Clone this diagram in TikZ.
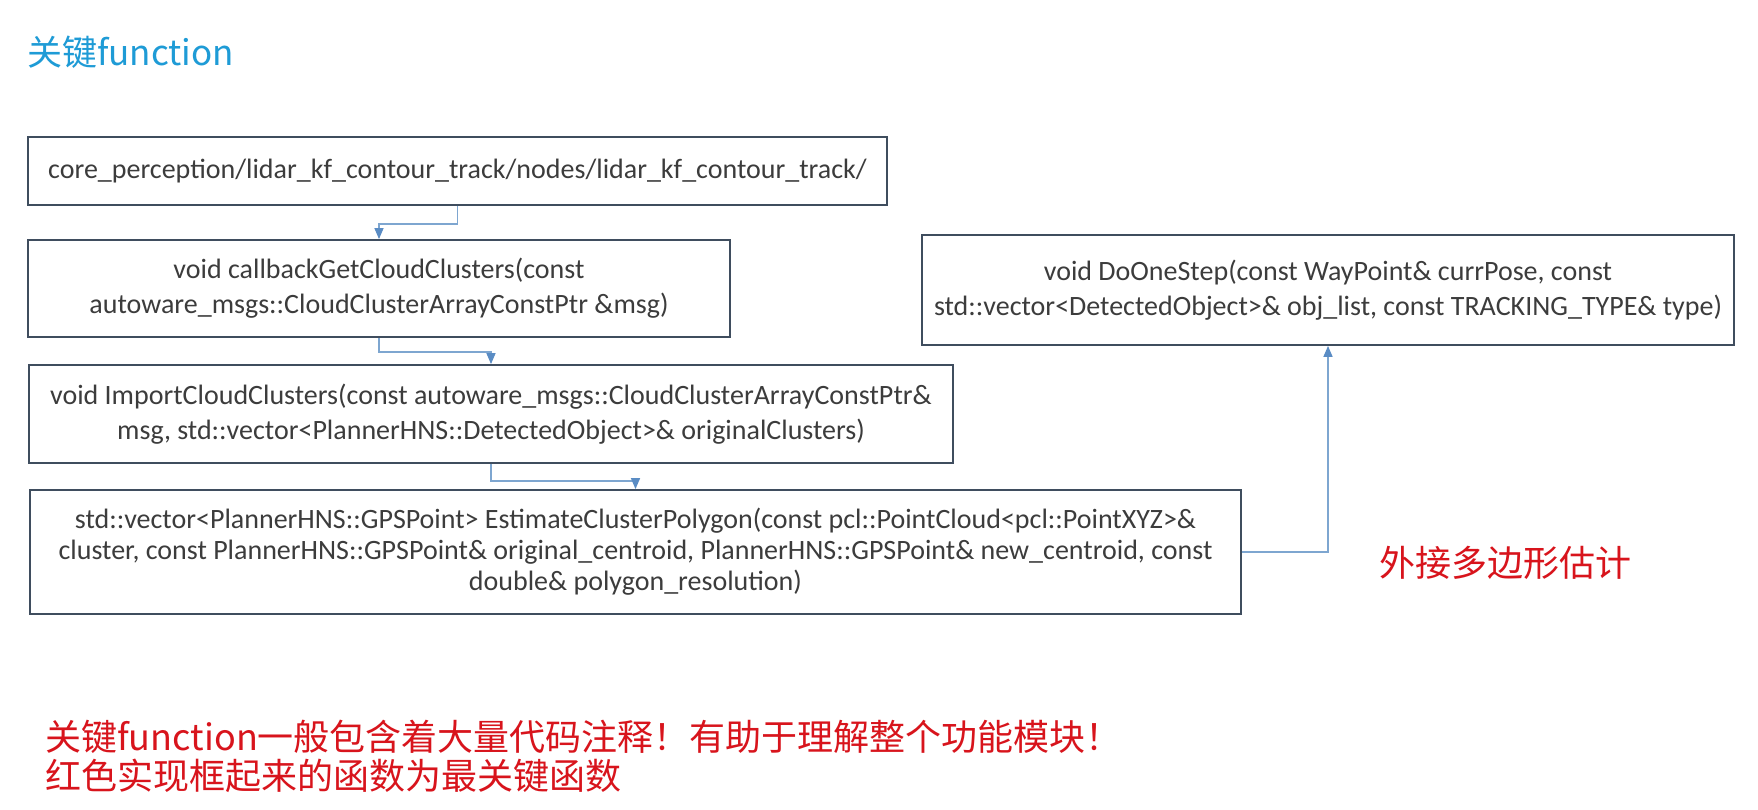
\documentclass[tikz,border=0pt]{standalone}
\usepackage{fontspec}
\setmainfont{Carlito}
\newfontfamily\cjk{Noto Sans CJK SC}
\usetikzlibrary{arrows.meta}
\definecolor{boxline}{HTML}{3F4D5E}
\definecolor{arrline}{HTML}{7EA6D0}
\definecolor{arrhead}{HTML}{5A8CC4}
\definecolor{titleblue}{HTML}{1E9BD6}
\definecolor{notered}{HTML}{D8141C}
\definecolor{codetext}{HTML}{3C3C3C}
\tikzset{
  codebox/.style={draw=boxline, line width=1.8pt, rectangle, inner sep=0pt,
    align=center, text=codetext, font=\fontsize{28}{35}\selectfont},
  flowarrow/.style={draw=arrline, line width=1.4pt,
    -{Triangle[length=11pt,width=9pt,color=arrhead]}},
  redtext/.style={text=notered, font=\cjk\fontsize{36}{39}\selectfont, inner sep=0pt},
}
\begin{document}
\begin{tikzpicture}[x=1pt,y=-1pt]
\useasboundingbox[fill=white] (0,0) rectangle (1758,809);

\node[anchor=base west, inner sep=0pt, text=titleblue, font=\cjk\fontsize{35}{40}\selectfont] (title) at (27,65) {关键function};

\node[codebox, minimum width=859pt, minimum height=68pt] (b1) at (457.5,171)
  {core\_perception/lidar\_kf\_contour\_track/nodes/lidar\_kf\_contour\_track/};

\node[codebox, minimum width=702pt, minimum height=97pt] (b2) at (379,288.5)
  {void callbackGetCloudClusters(const\\autoware\_msgs::CloudClusterArrayConstPtr \&msg)};

\node[codebox, minimum width=924pt, minimum height=98pt] (b3) at (491,414)
  {void ImportCloudClusters(const autoware\_msgs::CloudClusterArrayConstPtr\&\\msg, std::vector<PlannerHNS::DetectedObject>\& originalClusters)};

\node[codebox, minimum width=1211pt, minimum height=124pt, font=\fontsize{28}{31}\selectfont] (b4) at (635.5,552)
  {std::vector<PlannerHNS::GPSPoint> EstimateClusterPolygon(const pcl::PointCloud<pcl::PointXYZ>\&\\cluster, const PlannerHNS::GPSPoint\& original\_centroid, PlannerHNS::GPSPoint\& new\_centroid, const\\double\& polygon\_resolution)};

\node[codebox, minimum width=812pt, minimum height=110pt] (b5) at (1328,290)
  {void DoOneStep(const WayPoint\& currPose, const\\std::vector<DetectedObject>\& obj\_list, const TRACKING\_TYPE\& type)};

\node[redtext, anchor=base west] (note1) at (1379,576) {外接多边形估计};

\node[redtext, anchor=base west, align=left] (note2) at (45,789)
  {关键function一般包含着大量代码注释！有助于理解整个功能模块！\\红色实现框起来的函数为最关键函数};

\draw[flowarrow] (b1.south) -- ++(0,18) -| (b2.north);
\draw[flowarrow] (b2.south) -- ++(0,14) -| (b3.north);
\draw[flowarrow] (b3.south) -- ++(0,17) -| (b4.north);
\draw[flowarrow] (b4.east) -| (b5.south);
\end{tikzpicture}
\end{document}
